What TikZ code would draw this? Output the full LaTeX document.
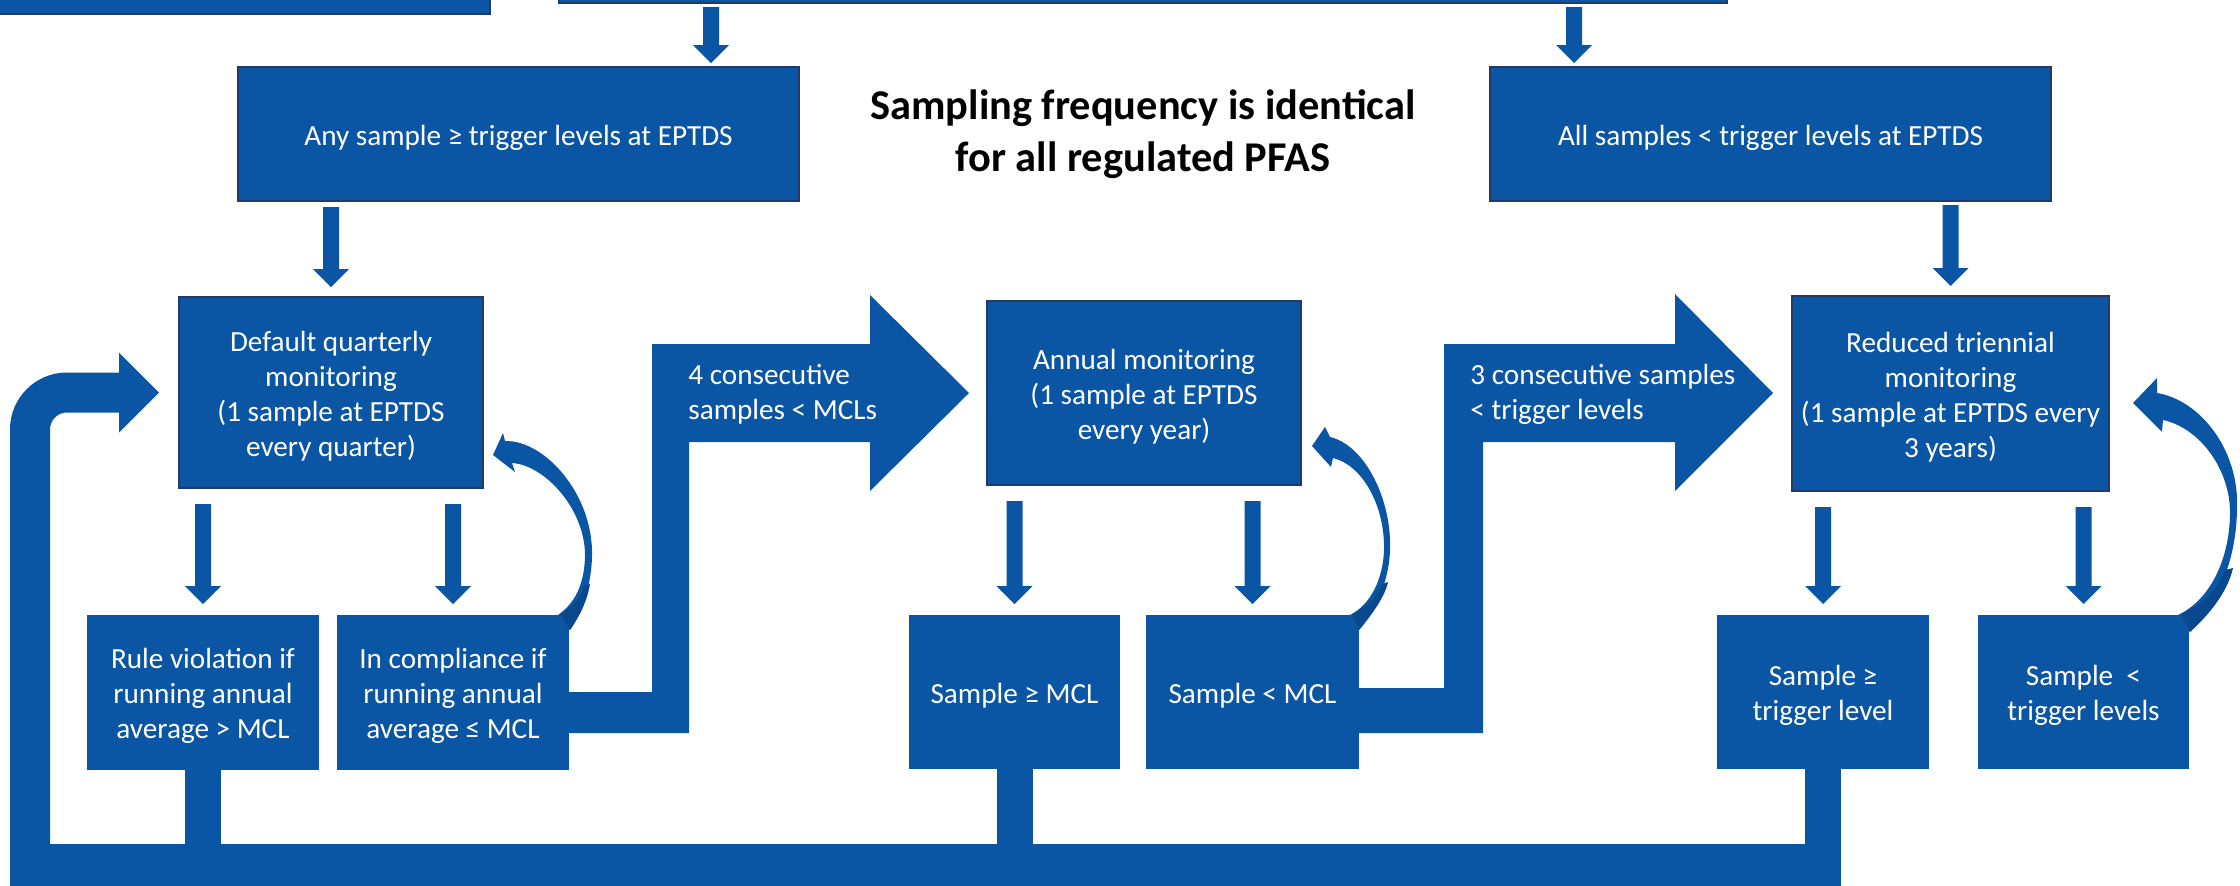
\documentclass[tikz,border=0pt]{standalone}
\usepackage{fontspec}
\setmainfont{Carlito}
\usetikzlibrary{calc}

\definecolor{fillblue}{RGB}{11,86,164}
\definecolor{edgeblue}{RGB}{34,58,102}
\definecolor{shadeblue}{RGB}{9,72,140}

% centred lines of box text; the taller first row sets the text a little lower
\newcommand\boxlines[1]{\begin{tabular}{@{}c@{}}\rule{0pt}{16.3pt}#1\end{tabular}}

\tikzset{
  % rectangle given by its top-left and bottom-right corners (px)
  corners/.style n args={4}{at={(#1/2+#3/2,#2/2+#4/2)},
    minimum width={(#3-#1)*0.5pt}, minimum height={(#4-#2)*0.5pt}},
  box/.style={fill=fillblue, draw=edgeblue, line width=0.8pt, inner sep=0pt, outer sep=0pt,
    text=white, anchor=center, font=\fontsize{14.6}{17.5}\selectfont},
  flatbox/.style={box, draw=none},
  headline/.style={inner sep=0pt, align=center, text=black,
    font=\fontsize{21.2}{26}\selectfont\bfseries},
  arrowtext/.style={inner sep=0pt, align=left, anchor=west, text=white,
    font=\fontsize{14.6}{17.5}\selectfont},
  % block arrow pointing down, shaft 16px, head 36px wide and 18px long
  blockdn/.style={fill=fillblue, to path={
    let \p1=(\tikztostart), \p2=(\tikztotarget) in
    (\x1-4pt,\y1) -- (\x1+4pt,\y1) -- (\x1+4pt,\y2+9pt) -- (\x1+9pt,\y2+9pt)
    -- (\x1,\y2) -- (\x1-9pt,\y2+9pt) -- (\x1-4pt,\y2+9pt) -- cycle}},
  stem/.style={draw=fillblue, line width=18pt},
  loopline/.style={draw=fillblue, line width=20pt, rounded corners=18.5pt},
}

\begin{document}
\begin{tikzpicture}[x=0.5pt, y=-0.5pt]
\useasboundingbox (0,0) rectangle (2240,885);
\clip (0,0) rectangle (2240,885);

% boxes running off the top edge
\node[box, corners={-20}{-40}{490}{14}] (topl) {};
\node[box, corners={559}{-40}{1727}{3}] (topc) {};

% second row
\node[box, corners={238}{67}{799}{201}] (anyhi) {\boxlines{Any sample ≥ trigger levels at EPTDS}};
\node[box, corners={1490}{67}{2051}{201}] (alllo) {\boxlines{All samples < trigger levels at EPTDS}};
\node[headline] (ttl) at (1143,134) {Sampling frequency is identical\\for all regulated PFAS};

% monitoring schedules
\node[box, corners={179}{297}{483}{488}] (dq) {\boxlines{Default quarterly\\monitoring\\(1 sample at EPTDS\\every quarter)}};
\node[box, corners={987}{301}{1301}{485}] (an) {\boxlines{Annual monitoring\\(1 sample at EPTDS\\every year)}};
\node[box, corners={1792}{296}{2109}{491}] (tri) {\boxlines{Reduced triennial\\monitoring\\(1 sample at EPTDS every\\3 years)}};

% outcomes
\node[flatbox, corners={87}{615}{319}{770}] (rv) {\boxlines{Rule violation if\\running annual\\average > MCL}};
\node[flatbox, corners={337}{615}{569}{770}] (ic) {\boxlines{In compliance if\\running annual\\average ≤ MCL}};
\node[flatbox, corners={909}{615}{1120}{769}] (sgm) {\boxlines{Sample ≥ MCL}};
\node[flatbox, corners={1146}{615}{1359}{769}] (slm) {\boxlines{Sample < MCL}};
\node[flatbox, corners={1717}{615}{1929}{769}] (sgt) {\boxlines{Sample ≥\\trigger level}};
\node[flatbox, corners={1978}{615}{2189}{769}] (slt) {\boxlines{Sample~~<\\trigger levels}};

% down arrows
\coordinate (xa) at (711,0);
\coordinate (xb) at (1574,0);
\path[blockdn] ([yshift=-2pt]topc.south -| xa) to ([yshift=2pt]anyhi.north -| xa);
\path[blockdn] ([yshift=-2pt]topc.south -| xb) to ([yshift=2pt]alllo.north -| xb);
\path[blockdn] ([yshift=-3pt]anyhi.south -| dq.north) to ([yshift=5pt]dq.north);
\path[blockdn] ([yshift=-2pt]alllo.south -| tri.north) to ([yshift=5pt]tri.north);
\path[blockdn] ([yshift=-8pt]dq.south -| rv.north) to ([yshift=5.5pt]rv.north);
\path[blockdn] ([yshift=-8pt]dq.south -| ic.north) to ([yshift=5.5pt]ic.north);
\path[blockdn] ([yshift=-8pt]an.south -| sgm.north) to ([yshift=5.5pt]sgm.north);
\path[blockdn] ([yshift=-8pt]an.south -| slm.north) to ([yshift=5.5pt]slm.north);
\path[blockdn] ([yshift=-8pt]tri.south -| sgt.north) to ([yshift=5.5pt]sgt.north);
\path[blockdn] ([yshift=-8pt]tri.south -| slt.north) to ([yshift=5.5pt]slt.north);

% return path back to quarterly monitoring
\draw[stem] (rv.south) -- (rv.south |- 0,890);
\draw[stem] (sgm.south) -- (sgm.south |- 0,890);
\draw[stem] (sgt.south) -- (sgt.south |- 0,890);
\fill[fillblue] (10,844) rectangle (1840,890);
\coordinate (looptip) at ([xshift=-10pt]dq.west);
\draw[loopline] (30,890) -- (30,0 |- looptip) -- ([xshift=-20pt]looptip);
\fill[fillblue] (looptip) -- ++(-20pt,20pt) -- ++(0,-40pt) -- cycle;

% step-down arrows
\fill[fillblue] (ic.east |- 0,692) -- (652,692) -- (652,344) -- (870,344) -- (870,295)
  -- (969,393) -- (870,491) -- (870,442) -- (689,442) -- (689,733) -- (ic.east |- 0,733) -- cycle;
\node[arrowtext] (t4) at (688,394) {4 consecutive\\samples < MCLs};
\fill[fillblue] (slm.east |- 0,688) -- (1444,688) -- (1444,344) -- (1675,344) -- (1675,294)
  -- (1773,393) -- (1675,491) -- (1675,442) -- (1483,442) -- (1483,733) -- (slm.east |- 0,733) -- cycle;
\node[arrowtext] (t3) at (1470,394) {3 consecutive samples\\< trigger levels};

% curved arrows: stay on the same schedule
\fill[fillblue] (493,455) -- (515,472) -- (512,463)
  .. controls (545,465) and (586,510) .. (585,557)
  .. controls (584,585) and (575,603) .. (558,615) -- (570,630)
  .. controls (580,615) and (591,590) .. (592,557)
  .. controls (594,495) and (545,440) .. (505,441) -- (503,433) -- cycle;
\fill[shadeblue] (560,614) -- (570,630) .. controls (579,617) and (587,602) .. (590,584)
  -- (584,586) .. controls (580,599) and (572,608) .. (560,614) -- cycle;
\fill[fillblue] (1312,446) -- (1331,467) -- (1333,458)
  .. controls (1362,465) and (1385,505) .. (1384,550)
  .. controls (1383,580) and (1370,605) .. (1350,615) -- (1359,630)
  .. controls (1372,615) and (1389,585) .. (1390,550)
  .. controls (1392,500) and (1365,445) .. (1330,437) -- (1325,427) -- cycle;
\fill[shadeblue] (1352,614) -- (1359,630) .. controls (1370,617) and (1385,597) .. (1388,582)
  -- (1382,584) .. controls (1377,598) and (1366,608) .. (1352,614) -- cycle;
\fill[fillblue] (2133,403) -- (2162,432) -- (2163,420)
  .. controls (2200,428) and (2231,470) .. (2230,515)
  .. controls (2229,560) and (2210,600) .. (2178,615) -- (2190,632)
  .. controls (2215,605) and (2236,565) .. (2237,510)
  .. controls (2240,450) and (2200,400) .. (2157,393) -- (2157,378) -- cycle;
\fill[shadeblue] (2181,614) -- (2190,632) .. controls (2212,612) and (2228,590) .. (2233,568)
  -- (2225,570) .. controls (2218,590) and (2202,605) .. (2181,614) -- cycle;
\end{tikzpicture}
\end{document}
